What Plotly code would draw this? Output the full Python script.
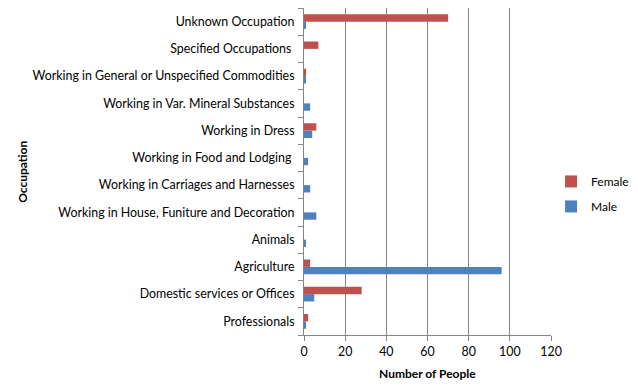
import plotly.graph_objects as go

categories = [
    "Professionals",
    "Domestic services or Offices",
    "Agriculture",
    "Animals",
    "Working in House, Funiture and Decoration",
    "Working in Carriages and Harnesses",
    "Working in Food and Lodging ",
    "Working in Dress",
    "Working in Var. Mineral Substances",
    "Working in General or Unspecified Commodities",
    "Specified Occupations ",
    "Unknown Occupation",
]
male = [1, 5, 96, 1, 6, 3, 2, 4, 3, 1, 0, 1]
female = [2, 28, 3, 0, 0, 0, 0, 6, 0, 1, 7, 70]
x_ticks = [0, 20, 40, 60, 80, 100, 120]

FONT = "Lato, Carlito, Calibri, sans-serif"

fig = go.Figure()
fig.add_trace(go.Bar(y=categories, x=male, name="Male", orientation="h",
                     legendgroup="m", legendrank=2,
                     marker=dict(color="#4F81BD", line=dict(width=0))))
fig.add_trace(go.Bar(y=categories, x=female, name="Female", orientation="h",
                     legendgroup="f", legendrank=1,
                     marker=dict(color="#C0504D", line=dict(width=0))))

fig.update_layout(
    width=630, height=381,
    margin=dict(l=296, r=85, t=0, b=54),
    barmode="group", bargap=0.46, bargroupgap=0,
    plot_bgcolor="white", paper_bgcolor="white",
    font=dict(family=FONT, size=12.4, color="#000000"),
    legend=dict(xref="container", yref="container", x=0.862, y=0.512,
                xanchor="left", yanchor="middle",
                traceorder="grouped", font=dict(size=12),
                itemwidth=30, tracegroupgap=6),
    showlegend=True,
    annotations=[
        dict(text="<b>Occupation</b>", xref="paper", yref="paper",
             x=-1.14, y=0.5, xanchor="center", yanchor="middle",
             textangle=-90, showarrow=False, font=dict(size=12)),
        dict(text="<b>Number of People</b>", xref="paper", yref="paper",
             x=0.5, y=-0.119, xanchor="center", yanchor="middle",
             showarrow=False, font=dict(size=12)),
    ],
)
fig.update_xaxes(
    range=[0, 120], tickvals=x_ticks, showgrid=True, gridcolor="#868686",
    gridwidth=1, zeroline=False, showline=True, linecolor="#868686",
    ticks="outside", ticklen=5, tickcolor="#868686", automargin=False,
)
fig.update_yaxes(
    showgrid=False, showline=True, linecolor="#868686",
    ticks="outside", tickson="boundaries", ticklen=5, tickcolor="#868686",
    ticklabelstandoff=6, automargin=False,
)
fig.write_html("out.html")
